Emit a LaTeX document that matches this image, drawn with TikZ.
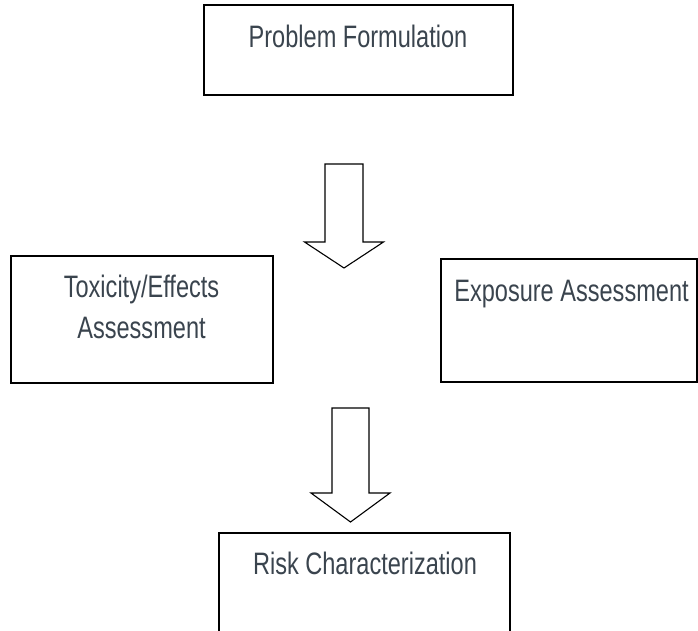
\documentclass[tikz,border=0pt]{standalone}
\usepackage{fontspec}
\setmainfont[FakeStretch=0.76]{Liberation Sans}
\definecolor{txt}{RGB}{58,68,78}
\begin{document}
\begin{tikzpicture}[x=1pt,y=-1pt,
  box/.style={draw=black, line width=1.5pt, fill=white},
  lbl/.style={text=txt, font=\fontsize{31}{41}\selectfont, inner sep=0pt, anchor=base, align=center},
  blockarrow/.style={draw=black, line width=1.1pt, fill=white, line join=miter}]
\useasboundingbox (0,0) rectangle (698,631);
% boxes
\draw[box] (204,5) rectangle (513,95);
\draw[box] (11,256) rectangle (273,383);
\draw[box] (441,259) rectangle (697,382);
\draw[box] (219,533) rectangle (510,660);
% labels
\node[lbl] (pf) at (358,47.5) {Problem Formulation};
\node[lbl] (tox) at (141.5,338) {Toxicity/Effects\\Assessment};
\node[lbl] (exp) at (571.5,301) {Exposure Assessment};
\node[lbl] (risk) at (365,574) {Risk Characterization};
% block arrows
\draw[blockarrow] (325,164) -- (363,164) -- (363,242) -- (383.5,242) -- (344,268) -- (304.5,242) -- (325,242) -- cycle;
\draw[blockarrow] (332,408) -- (369,408) -- (369,493) -- (390,493) -- (350.5,522) -- (311,493) -- (332,493) -- cycle;
\end{tikzpicture}
\end{document}
